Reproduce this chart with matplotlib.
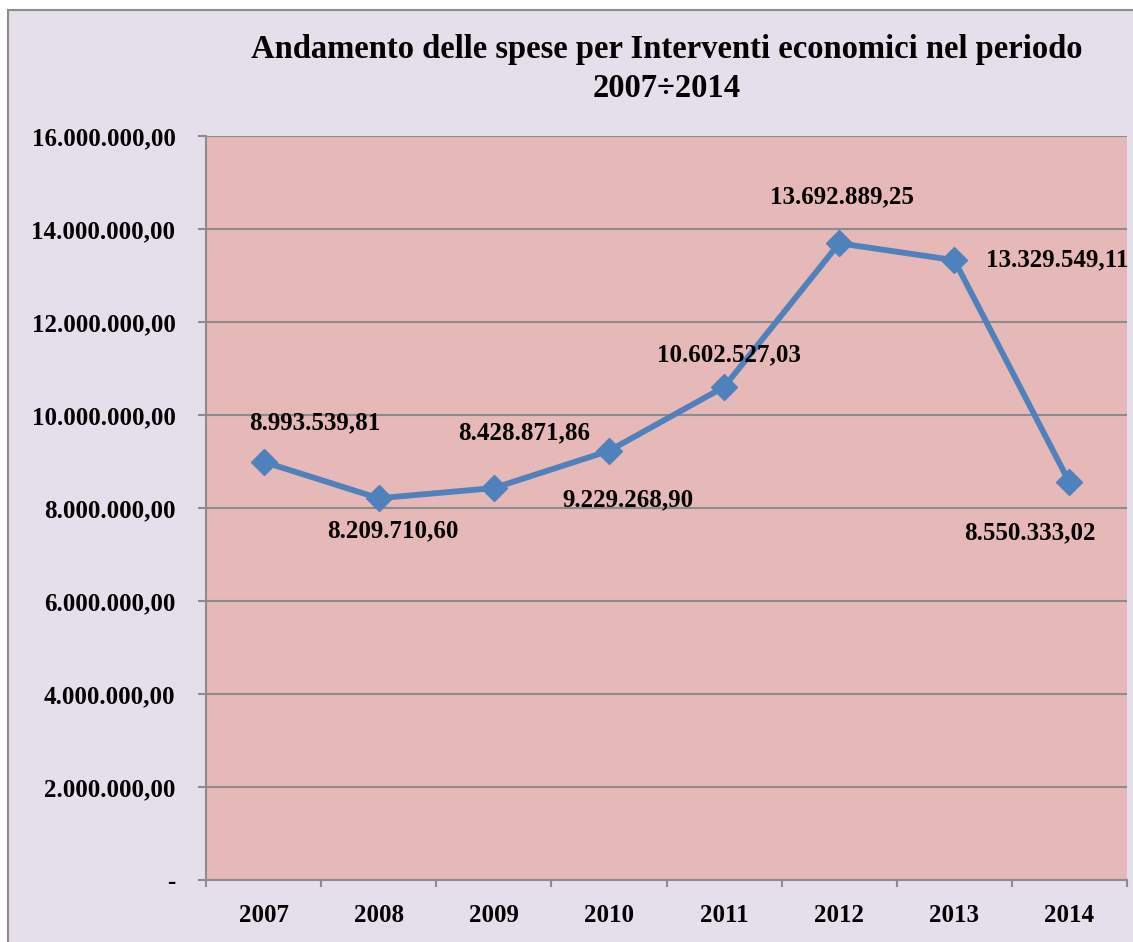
import matplotlib.pyplot as plt
from matplotlib.patches import Rectangle

# yearly spending for economic interventions
years = ["2007", "2008", "2009", "2010", "2011", "2012", "2013", "2014"]
spese = [8993539.81, 8209710.60, 8428871.86, 9229268.90,
         10602527.03, 13692889.25, 13329549.11, 8550333.02]
# label offsets in pixels (dx, dy) from each point
offsets = [(51, 39), (14, -33), (30, 55), (19, -49),
           (5, 32), (3, 46), (103, 0), (-40, -50)]

def fmt_it(v, dec=2):
    s = f"{v:,.{dec}f}"
    return s.replace(",", "X").replace(".", ",").replace("X", ".")

W, H = 1133, 942
fig = plt.figure(figsize=(W / 100, H / 100), dpi=100)
fig.patch.set_facecolor("white")

# chart area background with grey frame
fig.patches.append(Rectangle((8 / W, -0.01), 1.02, 1 - 10 / H + 0.01,
                             transform=fig.transFigure, facecolor="#E5DFEC",
                             edgecolor="#8C8C8C", linewidth=1.5, zorder=-5))

ax = fig.add_axes([206 / W, 1 - 880 / H, (1127 - 206) / W, (880 - 136) / H])
ax.set_facecolor("#E6B8B7")

font = ["Liberation Serif", "DejaVu Serif"]
fs = 18
x = range(len(years))
ax.plot(x, spese, color="#4F81BD", linewidth=4.2, marker="D",
        markersize=13, zorder=3)

for i, v in enumerate(spese):
    ax.annotate(fmt_it(v), (i, v), xytext=offsets[i], textcoords="offset pixels",
                ha="center", va="center", fontsize=fs, fontweight="bold",
                family=font, color="black")

ax.set_xlim(-0.5, len(years) - 0.5)
ax.set_ylim(0, 16000000)
yt = [i * 2000000 for i in range(9)]
ax.set_yticks(yt)
ax.set_yticklabels(["-"] + [fmt_it(v) for v in yt[1:]], fontsize=fs,
                   fontweight="bold", family=font)
ax.set_xticks(list(x))
ax.set_xticklabels(years, fontsize=fs, fontweight="bold", family=font)
ax.set_xticks([i - 0.5 for i in range(len(years) + 1)], minor=True)
ax.tick_params(axis="x", which="major", length=0, pad=17)
ax.tick_params(axis="x", which="minor", length=5, color="#8C8C8C", width=1.5)
ax.tick_params(axis="y", length=6, color="#8C8C8C", width=1.5, pad=16)

ax.grid(axis="y", color="#8C8C8C", linewidth=1.5)
ax.set_axisbelow(True)
for s in ["top", "right"]:
    ax.spines[s].set_visible(False)
for s in ["left", "bottom"]:
    ax.spines[s].set_color("#8C8C8C")
    ax.spines[s].set_linewidth(1.5)

fig.text(667 / W, 1 - 69 / H,
         "Andamento delle spese per Interventi economici nel periodo\n2007÷2014",
         ha="center", va="center", fontsize=23.5, fontweight="bold",
         family=font, linespacing=1.3)

fig.savefig("out.png", dpi=100)
